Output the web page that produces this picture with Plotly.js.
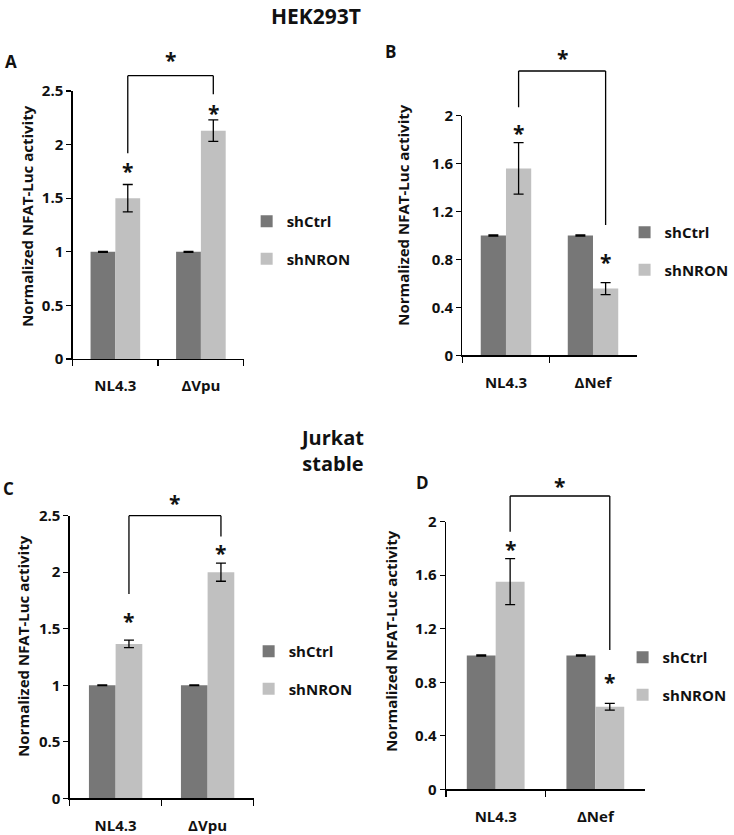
<!DOCTYPE html>
<html><head><meta charset="utf-8">
<script src="https://cdn.plot.ly/plotly-3.0.1.min.js"></script>
<style>html,body{margin:0;padding:0;background:#fff}</style>
</head><body><div id="chart" style="width:734px;height:835px"></div>
<script>
// ---------- data ----------
const seriesNames = ['shCtrl', 'shNRON'];
const catsVpu = ['NL4.3', 'ΔVpu'];
const catsNef = ['NL4.3', 'ΔNef'];

// Panel A (HEK293T, ΔVpu)
const a_shCtrl = [1.00, 1.00];
const a_shCtrl_err = [0.004, 0.004];
const a_shNRON = [1.50, 2.13];
const a_shNRON_err = [0.128, 0.10];

// Panel B (HEK293T, ΔNef)
const b_shCtrl = [1.00, 1.00];
const b_shCtrl_err = [0.004, 0.004];
const b_shNRON = [1.56, 0.557];
const b_shNRON_err = [0.215, 0.05];

// Panel C (Jurkat stable, ΔVpu)
const c_shCtrl = [1.00, 1.00];
const c_shCtrl_err = [0.004, 0.004];
const c_shNRON = [1.366, 2.00];
const c_shNRON_err = [0.033, 0.08];

// Panel D (Jurkat stable, ΔNef)
const d_shCtrl = [1.00, 1.00];
const d_shCtrl_err = [0.004, 0.004];
const d_shNRON = [1.552, 0.617];
const d_shNRON_err = [0.172, 0.025];

const yMaxVpu = 2.5, yStepVpu = 0.5;
const yMaxNef = 2.0, yStepNef = 0.4;

// ---------- style / layout ----------
const W = 734, H = 835;
const FONT = '"Open Sans", "DejaVu Sans", sans-serif';
const TXT = '#111111';
const C_CTRL = '#777777', C_NRON = '#c0c0c0';
const BARGAP = 0.42;
const OFF = (1 - BARGAP) / 4;   // centre offset of each bar in a group
const px = v => v / W;
const py = v => 1 - v / H;

const panels = [
  {letter:'A', xa:'x',  ya:'y',  cats:catsVpu, ctrl:a_shCtrl, ctrlErr:a_shCtrl_err, nron:a_shNRON, nronErr:a_shNRON_err,
   ymax:yMaxVpu, dtick:yStepVpu, xpx:[73,245], ypx:[91,359], legend:'legend',
   leg:{x:248, y:240}, ytitle:{x:27, y:216}, letterPos:{x:11, y:61},
   bracket:{top:2.643, left:1.92, right:2.47, starShift:20}, starShift:[17,11]},
  {letter:'B', xa:'x2', ya:'y2', cats:catsNef, ctrl:b_shCtrl, ctrlErr:b_shCtrl_err, nron:b_shNRON, nronErr:b_shNRON_err,
   ymax:yMaxNef, dtick:yStepNef, xpx:[465,640], ypx:[115.7,355.3], legend:'legend2',
   leg:{x:628, y:251}, ytitle:{x:405, y:215}, letterPos:{x:393, y:52},
   bracket:{top:2.373, left:2.07, right:1.088, starShift:17}, starShift:[14,25]},
  {letter:'C', xa:'x3', ya:'y3', cats:catsVpu, ctrl:c_shCtrl, ctrlErr:c_shCtrl_err, nron:c_shNRON, nronErr:c_shNRON_err,
   ymax:yMaxVpu, dtick:yStepVpu, xpx:[70,255], ypx:[515.7,798.3], legend:'legend3',
   leg:{x:250, y:670}, ytitle:{x:23, y:646}, letterPos:{x:9, y:488},
   bracket:{top:2.5, left:1.808, right:2.315, starShift:17}, starShift:[23,14]},
  {letter:'D', xa:'x4', ya:'y4', cats:catsNef, ctrl:d_shCtrl, ctrlErr:d_shCtrl_err, nron:d_shNRON, nronErr:d_shNRON_err,
   ymax:yMaxNef, dtick:yStepNef, xpx:[448.3,648.7], ypx:[521.7,789.3], legend:'legend4',
   leg:{x:626, y:676}, ytitle:{x:393, y:641}, letterPos:{x:425, y:483},
   bracket:{top:2.192, left:1.925, right:1.041, starShift:14}, starShift:[14,25]}
];

const traces = [];
const layout = {
  width: W, height: H,
  margin: {l:0, r:0, t:0, b:0},
  paper_bgcolor: '#fff', plot_bgcolor: '#fff',
  barmode: 'group', bargap: BARGAP, bargroupgap: 0,
  showlegend: true,
  font: {family: FONT, color: TXT, size: 15, weight: 'bold'},
  shapes: [], annotations: []
};

const tickFont = {family: FONT, size: 15, color: TXT, weight: 'bold'};
const STAR_CORR = -4;

panels.forEach((p, k) => {
  const xKey = 'xaxis' + (k ? k + 1 : '');
  const yKey = 'yaxis' + (k ? k + 1 : '');
  const errStyle = {type:'data', visible:true, color:'#000', thickness:1.3, width:5};
  traces.push({
    type:'bar', name:seriesNames[0], x:p.cats, y:p.ctrl, xaxis:p.xa, yaxis:p.ya,
    marker:{color:C_CTRL}, error_y:Object.assign({array:p.ctrlErr}, errStyle),
    legend:p.legend, legendgroup:p.letter + '0', hoverinfo:'skip'
  });
  traces.push({
    type:'bar', name:seriesNames[1], x:p.cats, y:p.nron, xaxis:p.xa, yaxis:p.ya,
    marker:{color:C_NRON}, error_y:Object.assign({array:p.nronErr}, errStyle),
    legend:p.legend, legendgroup:p.letter + '1', hoverinfo:'skip'
  });

  layout[xKey] = {
    domain:[px(p.xpx[0]), px(p.xpx[1])], anchor:p.ya, type:'category',
    range:[-0.5, 1.5], showline:true, linecolor:'#000', linewidth:1.3,
    ticks:'outside', tickson:'boundaries', ticklen:6, tickwidth:1.3, tickcolor:'#000',
    tickfont:tickFont, ticklabelstandoff:13, showgrid:false, zeroline:false, fixedrange:true
  };
  layout[yKey] = {
    domain:[py(p.ypx[1]), py(p.ypx[0])], anchor:p.xa,
    range:[0, p.ymax], dtick:p.dtick, tick0:0, showline:true, linecolor:'#000', linewidth:1.3,
    ticks:'outside', ticklen:5, tickwidth:1.3, tickcolor:'#000', tickfont:tickFont,
    showgrid:false, zeroline:false, fixedrange:true
  };
  layout[p.legend] = {
    x:px(p.leg.x), y:py(p.leg.y), xref:'paper', yref:'paper', xanchor:'left', yanchor:'middle',
    bgcolor:'rgba(0,0,0,0)', font:{family:FONT, size:15, color:TXT, weight:'bold'},
    tracegroupgap:15, traceorder:'grouped', itemclick:false, itemdoubleclick:false
  };

  // significance bracket (between the shNRON bars of both categories)
  const yref = p.ya + ' domain';
  const xl = 0 + OFF, xr = 1 + OFF;
  const b = p.bracket;
  const line = {color:'#000', width:1.3};
  layout.shapes.push({type:'line', xref:p.xa, yref:yref, x0:xl, x1:xl, y0:b.left / p.ymax, y1:b.top / p.ymax, line:line});
  layout.shapes.push({type:'line', xref:p.xa, yref:yref, x0:xl, x1:xr, y0:b.top / p.ymax, y1:b.top / p.ymax, line:line});
  layout.shapes.push({type:'line', xref:p.xa, yref:yref, x0:xr, x1:xr, y0:b.right / p.ymax, y1:b.top / p.ymax, line:line});
  const starFont = {family:FONT, size:21, color:TXT, weight:'bold'};
  layout.annotations.push({xref:p.xa, yref:yref, x:(xl + xr) / 2, y:b.top / p.ymax, text:'*',
    showarrow:false, yanchor:'middle', xanchor:'center', yshift:b.starShift + STAR_CORR, font:starFont});
  // stars above shNRON bars
  p.nron.forEach((v, i) => {
    layout.annotations.push({xref:p.xa, yref:yref, x:i + OFF, y:(v + p.nronErr[i]) / p.ymax, text:'*',
      showarrow:false, yanchor:'middle', xanchor:'center', yshift:p.starShift[i] + STAR_CORR, font:starFont});
  });

  // y-axis title
  layout.annotations.push({xref:'paper', yref:'paper', x:px(p.ytitle.x), y:py(p.ytitle.y),
    text:'Normalized NFAT-Luc activity', textangle:-90, showarrow:false, xanchor:'center', yanchor:'middle',
    font:{family:FONT, size:15, color:TXT, weight:'bold'}});
  // panel letter
  layout.annotations.push({xref:'paper', yref:'paper', x:px(p.letterPos.x), y:py(p.letterPos.y),
    text:p.letter, showarrow:false, xanchor:'center', yanchor:'middle',
    font:{family:FONT, size:17, color:TXT, weight:'bold'}});
});

// cell-line headings
layout.annotations.push({xref:'paper', yref:'paper', x:px(318), y:py(16), text:'HEK293T',
  showarrow:false, xanchor:'center', yanchor:'middle', font:{family:FONT, size:21, color:TXT, weight:'bold'}});
layout.annotations.push({xref:'paper', yref:'paper', x:px(334), y:py(451), text:'Jurkat<br>stable',
  showarrow:false, xanchor:'center', yanchor:'middle', font:{family:FONT, size:20, color:TXT, weight:'bold'}});

Plotly.newPlot('chart', traces, layout, {staticPlot:true, displayModeBar:false});
</script>
</body></html>
